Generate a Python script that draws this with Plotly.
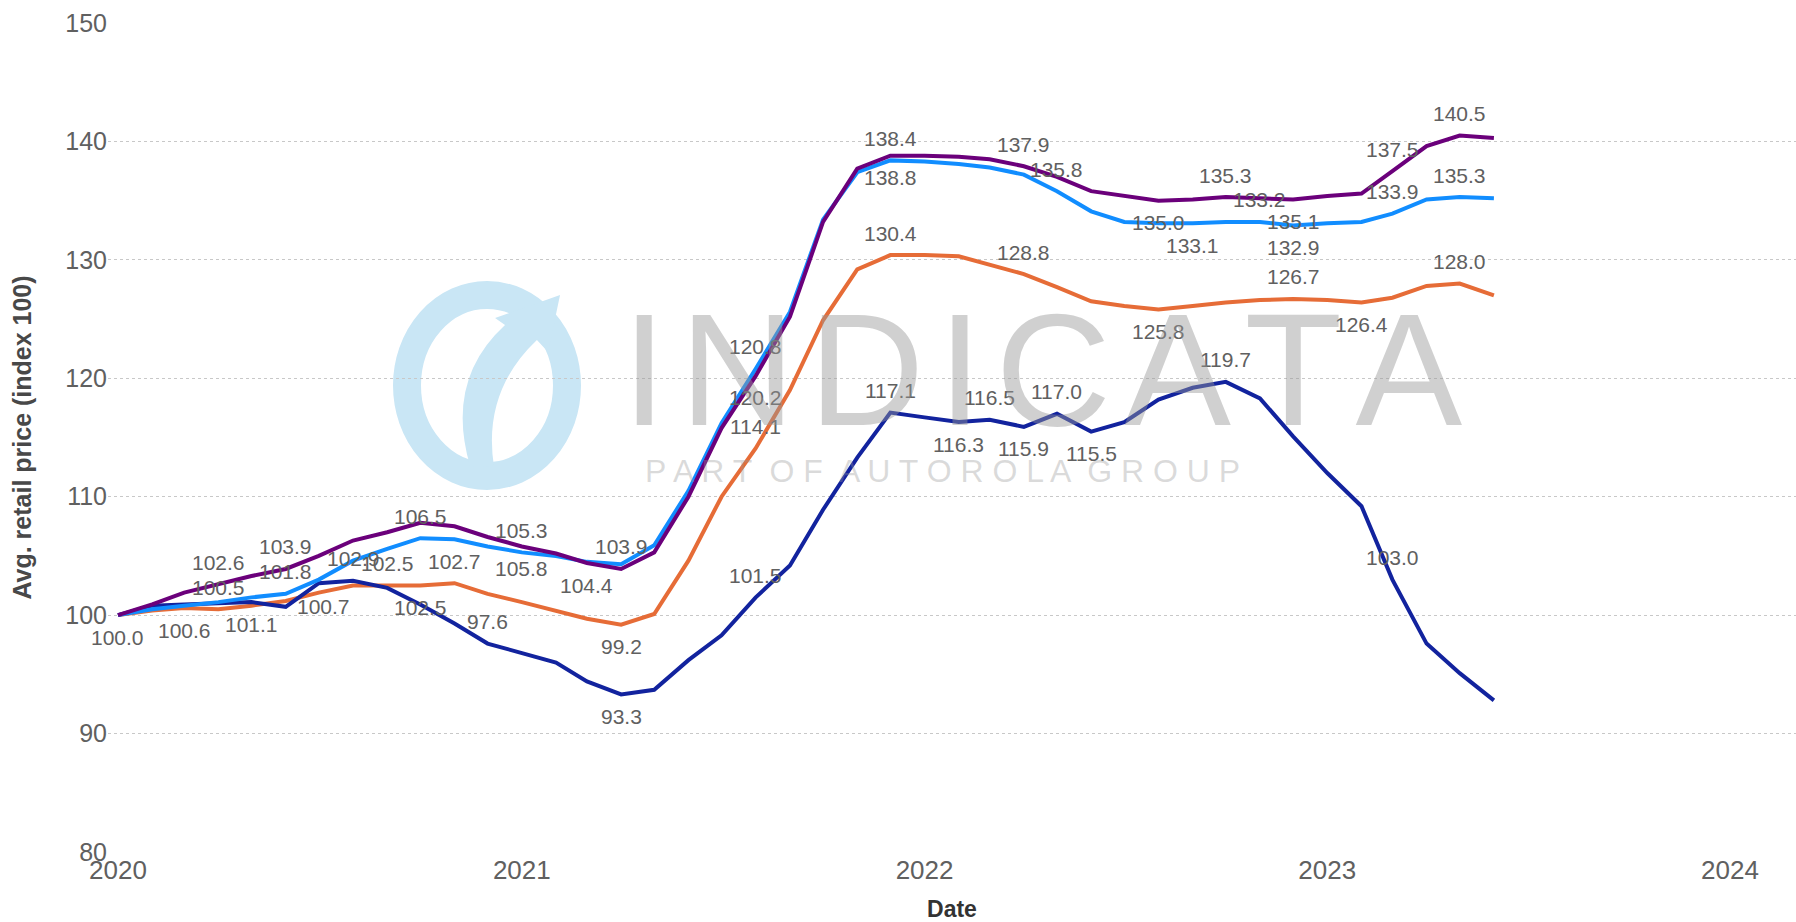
import pandas as pd
import plotly.graph_objects as go

# ---------------------------------------------------------
# DATOS
# ---------------------------------------------------------
fechas = pd.date_range("2020-01-01", periods=42, freq="MS")

serie_morada = [100.0, 100.9, 101.9, 102.6, 103.3, 103.9, 105.0, 106.3, 107.0, 107.8, 107.5, 106.6,
                105.8, 105.2, 104.4, 103.9, 105.3, 110.0, 115.8, 120.2, 125.2, 133.2, 137.7, 138.8,
                138.8, 138.7, 138.5, 137.9, 137.0, 135.8, 135.4, 135.0, 135.1, 135.3, 135.2, 135.1,
                135.4, 135.6, 137.5, 139.6, 140.5, 140.3]
serie_celeste = [100.0, 100.5, 100.8, 101.1, 101.5, 101.8, 103.0, 104.6, 105.6, 106.5, 106.4, 105.8,
                 105.3, 105.0, 104.5, 104.3, 105.9, 110.5, 116.2, 120.8, 125.6, 133.4, 137.4, 138.4,
                 138.3, 138.1, 137.8, 137.2, 135.8, 134.1, 133.2, 133.1, 133.1, 133.2, 133.2, 132.9,
                 133.1, 133.2, 133.9, 135.1, 135.3, 135.2]
serie_naranja = [100.0, 100.4, 100.6, 100.5, 100.8, 101.2, 101.9, 102.5, 102.5, 102.5, 102.7, 101.8,
                 101.1, 100.4, 99.7, 99.2, 100.1, 104.6, 110.0, 114.1, 119.0, 124.9, 129.2, 130.4,
                 130.4, 130.3, 129.6, 128.8, 127.7, 126.5, 126.1, 125.8, 126.1, 126.4, 126.6, 126.7,
                 126.6, 126.4, 126.8, 127.8, 128.0, 127.0]
serie_azul = [100.0, 100.8, 100.9, 101.0, 101.1, 100.7, 102.7, 102.9, 102.3, 100.9, 99.3, 97.6,
              96.8, 96.0, 94.4, 93.3, 93.7, 96.2, 98.3, 101.5, 104.2, 108.9, 113.3, 117.1,
              116.7, 116.3, 116.5, 115.9, 117.0, 115.5, 116.3, 118.2, 119.2, 119.7, 118.3, 115.1,
              112.0, 109.2, 103.0, 97.6, 95.1, 92.8]

# puntos con etiqueta: indice -> posicion (t = arriba, b = abajo, r = derecha)
etiquetas_morada = {3: "t", 5: "t", 12: "b", 14: "b", 15: "t", 19: "b", 23: "b", 27: "t",
                    31: "b", 33: "t", 35: "b", 38: "t", 40: "t"}
etiquetas_celeste = {5: "t", 9: "t", 12: "t", 19: "t", 23: "t", 28: "t", 32: "b", 34: "t",
                     35: "b", 38: "t", 40: "t"}
etiquetas_naranja = {2: "b", 3: "t", 8: "t", 9: "b", 10: "t", 15: "b", 19: "t", 23: "t",
                     27: "t", 31: "b", 35: "t", 37: "b", 40: "t"}
etiquetas_azul = {0: "b", 4: "b", 5: "r", 7: "t", 11: "t", 15: "b", 19: "t", 23: "t", 25: "b",
                  26: "t", 27: "b", 28: "t", 29: "b", 33: "t", 38: "t"}

anios = ["2020-01-01", "2021-01-01", "2022-01-01", "2023-01-01", "2024-01-01"]

FUENTE = "Liberation Sans, Arial, sans-serif"
GRIS_TEXTO = "#606060"

# area del grafico en pixeles (para decoraciones)
IZQ, DER, ARR, ABA = 108, 1796, 23, 852


def papel(px_x, px_y):
    return (px_x - IZQ) / (DER - IZQ), (ABA - px_y) / (ABA - ARR)


fig = go.Figure()

series = [
    ("Series 3", serie_naranja, "#E66C37", etiquetas_naranja),
    ("Series 4", serie_azul, "#12239E", etiquetas_azul),
    ("Series 2", serie_celeste, "#118DFF", etiquetas_celeste),
    ("Series 1", serie_morada, "#6B007B", etiquetas_morada),
]

for nombre, valores, color, _ in series:
    fig.add_trace(go.Scatter(
        x=fechas, y=valores, mode="lines", name=nombre,
        line=dict(color=color, width=4),
        hovertemplate="%{x|%b %Y}: %{y:.1f}<extra></extra>"
    ))

# etiquetas de datos
anotaciones = []
for nombre, valores, color, etiquetas in series:
    for i, pos in etiquetas.items():
        anotaciones.append(dict(
            x=fechas[i], y=valores[i], xref="x", yref="y",
            text=f"{valores[i]:.1f}", showarrow=False,
            font=dict(family=FUENTE, size=21, color=GRIS_TEXTO),
            yshift=22 if pos == "t" else (-22 if pos == "b" else 0),
            xshift=38 if pos == "r" else 0,
        ))

# ---------------------------------------------------------
# MARCA DE AGUA
# ---------------------------------------------------------
cx, cy = papel(1042, 370)
anotaciones.append(dict(x=cx, y=cy, xref="paper", yref="paper", showarrow=False,
                        text="\u200a".join("INDICATA"),
                        font=dict(family=FUENTE, size=160, color="rgba(150,150,150,0.45)")))
cx, cy = papel(942, 471)
anotaciones.append(dict(x=cx, y=cy, xref="paper", yref="paper", showarrow=False,
                        text="P A R T  O F  A U T O R O L A  G R O U P",
                        font=dict(family=FUENTE, size=32, color="rgba(150,150,150,0.35)")))

AZUL_LOGO = "#c9e6f5"
x0, y1 = papel(407, 295)
x1, y0 = papel(567, 476)
formas = [dict(type="circle", xref="paper", yref="paper", x0=x0, y0=y0, x1=x1, y1=y1,
               line=dict(color=AZUL_LOGO, width=28), layer="below")]
p = [papel(*q) for q in [(470, 466), (445, 380), (505, 325), (495, 318), (560, 295),
                         (548, 352), (537, 340), (482, 392), (494, 467)]]
camino = "M {:.4f},{:.4f} Q {:.4f},{:.4f} {:.4f},{:.4f} L {:.4f},{:.4f} L {:.4f},{:.4f} " \
         "L {:.4f},{:.4f} L {:.4f},{:.4f} Q {:.4f},{:.4f} {:.4f},{:.4f} Z".format(
             *[c for q in p for c in q])
formas.append(dict(type="path", xref="paper", yref="paper", path=camino,
                   fillcolor=AZUL_LOGO, line=dict(width=0), layer="below"))

fig.update_layout(
    width=1796, height=922,
    margin=dict(l=IZQ, r=0, t=ARR, b=922 - ABA),
    paper_bgcolor="white", plot_bgcolor="white",
    showlegend=False,
    annotations=anotaciones,
    shapes=formas,
    font=dict(family=FUENTE, color=GRIS_TEXTO),
)

fig.update_xaxes(
    type="date",
    range=["2019-12-22 23:00", "2024-02-29 19:00"],
    tickvals=anios, tickformat="%Y",
    tickfont=dict(family=FUENTE, size=26, color=GRIS_TEXTO),
    showgrid=False, zeroline=False, showline=False, ticks="",
    title=dict(text="Date", font=dict(family=FUENTE, size=23, color="#333333", weight="bold"),
               standoff=16),
    automargin=False,
)

fig.update_yaxes(
    range=[80, 150], dtick=10,
    tickfont=dict(family=FUENTE, size=25, color=GRIS_TEXTO),
    showgrid=True, gridcolor="#c8c8c8", griddash="dot", gridwidth=1,
    zeroline=False, showline=False, ticks="",
    title=dict(text="Avg. retail price (index 100)",
               font=dict(family=FUENTE, size=25, color="#484848", weight="bold"),
               standoff=26),
    automargin=False,
)

fig.write_html("out.html", config={"displayModeBar": False},
               post_script="document.body.style.margin='0px';")
